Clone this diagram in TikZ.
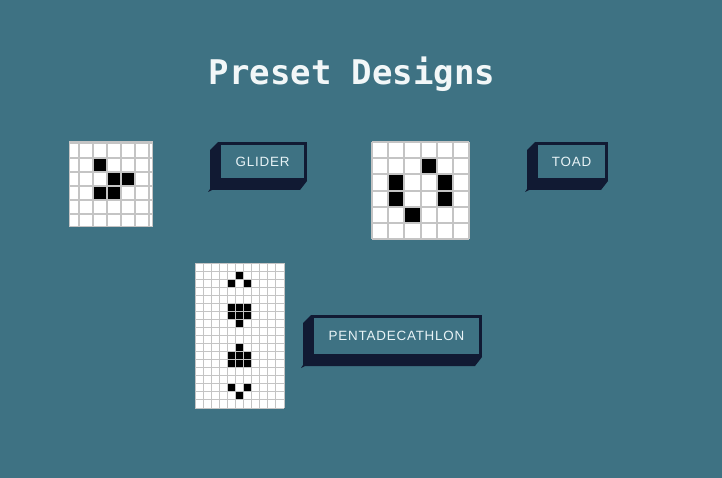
\documentclass[tikz,border=0pt]{standalone}
\usepackage{fontspec}
\newfontfamily\titlefont{DejaVu Sans Mono}
\newfontfamily\btnfont[LetterSpace=6]{Liberation Sans}
\definecolor{bg}{HTML}{3E7283}
\definecolor{navy}{HTML}{111A33}
\definecolor{gridgray}{HTML}{C4C4C4}
\definecolor{txt}{HTML}{E8F3F6}
\definecolor{titletxt}{HTML}{F2F7F8}
\tikzset{
  btnface/.style={draw=navy, line width=3pt, fill=bg, inner sep=0pt, text=txt,
    font=\btnfont\fontsize{13.4}{13.4}\selectfont},
  shade3d/.style={fill=navy},
  livecell/.style={fill=black},
  board/.style={fill=white},
  thickgrid/.style={draw=gridgray, line width=2pt},
  thingrid/.style={draw=gridgray, line width=1pt},
  titlestyle/.style={text=titletxt, inner sep=0pt, font=\titlefont\bfseries\fontsize{34}{34}\selectfont}
}
\newcommand\presetbutton[6]{%
  \fill[shade3d] (#2,#3) -- (#2-8,#3+8) -- (#2-8,#5+8) -- (#2-10,#5+11) -- (#2-6,#5+9)
     -- (#4-7,#5+9) -- (#4,#5) -- cycle;
  \node[btnface, minimum width={(#4-#2-3)*1pt}, minimum height={(#5-#3-3)*1pt}]
     (#1) at ({(#2+#4)/2},{(#3+#5)/2}) {#6};
}
\begin{document}
\begin{tikzpicture}[x=1pt,y=-1pt]
\useasboundingbox (0,0) rectangle (722,478);
\fill[bg] (0,0) rectangle (722,478);

% title
\node[titlestyle, anchor=base] (title) at (352,85) {Preset Designs};

% glider board
\fill[board] (69,142) rectangle (152,227);
\foreach \xa/\ya in {92.7/158.5, 106.7/172.5, 120.7/172.5, 92.7/186.5, 106.7/186.5}
  \fill[livecell] (\xa,\ya) rectangle ++(14,14);
\foreach \xv in {78.7,92.7,106.7,120.7,134.7,148.7}
  \draw[thickgrid] (\xv,142) -- (\xv,227);
\foreach \yv in {143,158.5,172.5,186.5,200.5,214.5}
  \draw[thickgrid] (69,\yv) -- (152,\yv);
\draw[thingrid] (69,142) rectangle (152,227);

% toad board
\fill[board] (372,142) rectangle (469,239);
\foreach \c/\r in {3/1,1/2,4/2,1/3,4/3,2/4}
  \fill[livecell] ({372+\c*16.17},{142+\r*16.17}) rectangle ++(16.17,16.17);
\foreach \i in {0,...,6} {
  \draw[thickgrid] ({372+\i*16.17},142) -- ({372+\i*16.17},239);
  \draw[thickgrid] (372,{142+\i*16.17}) -- (469,{142+\i*16.17});
}

% pentadecathlon board
\fill[board] (195,263) rectangle (284,408);
\foreach \c/\r in {5/1,4/2,6/2,4/5,5/5,6/5,4/6,5/6,6/6,5/7,5/10,4/11,5/11,6/11,4/12,5/12,6/12,4/15,6/15,5/16}
  \fill[livecell] ({195+\c*8.0909},{263+\r*8.0556}) rectangle ++(8.0909,8.0556);
\foreach \i in {0,...,11}
  \draw[thingrid] ({195+\i*8.0909},263) -- ({195+\i*8.0909},408);
\foreach \j in {0,...,18}
  \draw[thingrid] (195,{263+\j*8.0556}) -- (284,{263+\j*8.0556});

% buttons
\presetbutton{glider}{218}{142}{307}{181}{GLIDER}
\presetbutton{toad}{535}{142}{608}{181}{TOAD}
\presetbutton{penta}{311}{315}{482}{357}{PENTADECATHLON}
\end{tikzpicture}
\end{document}
